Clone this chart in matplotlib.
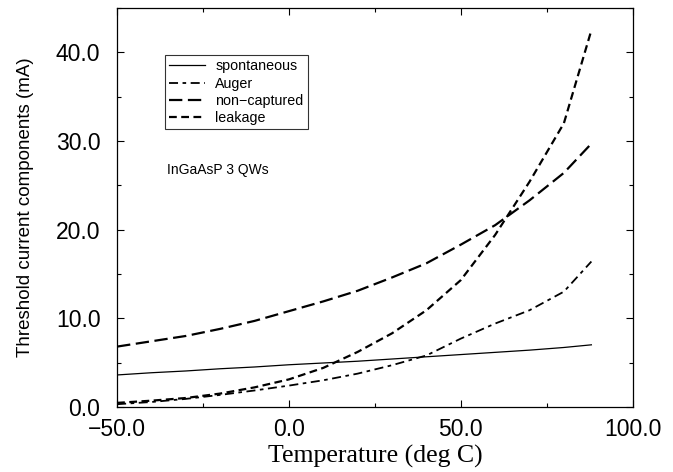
import matplotlib
matplotlib.use("Agg")
import matplotlib.pyplot as plt
from matplotlib.ticker import MultipleLocator

temps = [-50, -40, -30, -20, -10, 0, 10, 20, 30, 40, 50, 60, 70, 80, 88]
spontaneous = [3.6, 3.85, 4.05, 4.3, 4.5, 4.75, 4.95, 5.15, 5.4, 5.65, 5.9, 6.15, 6.4, 6.7, 7.0]
auger = [0.3, 0.55, 0.9, 1.35, 1.85, 2.4, 3.0, 3.75, 4.7, 5.8, 7.7, 9.4, 10.9, 13.0, 16.4]
noncaptured = [6.8, 7.4, 8.0, 8.8, 9.7, 10.8, 11.9, 13.1, 14.6, 16.2, 18.3, 20.5, 23.3, 26.4, 29.7]
leakage = [0.45, 0.7, 1.0, 1.5, 2.2, 3.1, 4.4, 6.2, 8.3, 10.9, 14.3, 19.4, 25.4, 32.0, 42.5]

xticks = [-50.0, 0.0, 50.0, 100.0]
yticks = [0.0, 10.0, 20.0, 30.0, 40.0]

fig = plt.figure(figsize=(6.73, 4.72), dpi=100)
ax = fig.add_axes([0.174, 0.138, 0.766, 0.845])

sans = ["Liberation Sans", "DejaVu Sans"]
serif = ["Liberation Serif", "DejaVu Serif"]

ax.plot(temps, spontaneous, color="black", lw=0.9, ls="-", label="spontaneous")
ax.plot(temps, auger, color="black", lw=1.3, ls=(0, (5, 2.5, 2, 2.5)), label="Auger")
ax.plot(temps, noncaptured, color="black", lw=1.6, ls=(0, (6, 2.5)), label="non\u2212captured")
ax.plot(temps, leakage, color="black", lw=1.6, ls=(0, (3.5, 2)), label="leakage")

ax.set_xlim(-50, 100)
ax.set_ylim(0, 45)
ax.set_xticks(xticks)
ax.set_yticks(yticks)
ax.xaxis.set_minor_locator(MultipleLocator(25))
ax.yaxis.set_minor_locator(MultipleLocator(5))
ax.set_xticklabels([f"{v:.1f}".replace("-", "\u2212") for v in xticks], fontfamily=sans, fontsize=16.5)
ax.set_yticklabels([f"{v:.1f}" for v in yticks], fontfamily=sans, fontsize=16.5)
ax.tick_params(which="both", direction="in", top=True, right=True, width=0.8)
ax.tick_params(which="major", length=5)
ax.tick_params(axis="x", which="major", pad=8)
ax.tick_params(axis="y", which="major", pad=12)
ax.tick_params(which="minor", length=3)

for s in ax.spines.values():
    s.set_linewidth(0.9)

ax.set_xlabel("Temperature (deg C)", fontfamily=serif, fontsize=18.5, labelpad=3)
ax.set_ylabel("Threshold current components (mA)", fontfamily=sans, fontsize=13.5, labelpad=16)

leg = ax.legend(loc="upper left", bbox_to_anchor=(0.093, 0.882), prop={"family": sans, "size": 10.3},
                frameon=True, fancybox=False, edgecolor="black", handlelength=2.5,
                borderpad=0.3, labelspacing=0.22, handletextpad=0.7, borderaxespad=0)
leg.get_frame().set_linewidth(0.8)

ax.text(0.097, 0.593, "InGaAsP 3 QWs", transform=ax.transAxes, fontfamily=sans, fontsize=10,
        va="center", ha="left")

fig.savefig("out.png", dpi=100)
